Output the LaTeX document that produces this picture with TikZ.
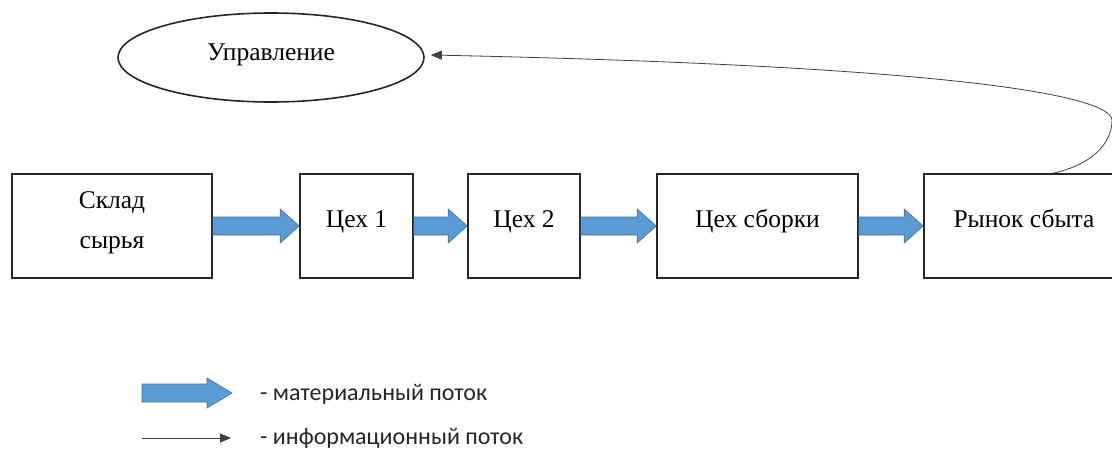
\documentclass[tikz,border=0pt]{standalone}
\usepackage{fontspec}
\setmainfont{Liberation Serif}
\newfontfamily\legendfont{Carlito}
\usetikzlibrary{arrows.meta,shapes.geometric,calc}
\definecolor{arrfill}{HTML}{5B9BD5}
\definecolor{arrline}{HTML}{41719C}
\tikzset{
  box/.style={draw=black!85, line width=1.6pt, fill=white, inner sep=0pt, align=center,
    minimum height=104pt, text height=12pt, text depth=10pt,
    font=\fontsize{25.5}{40}\selectfont},
  boxtext/.style={inner sep=0pt, anchor=base, font=\fontsize{25.5}{40}\selectfont},
  ovalbox/.style={draw=black!85, line width=1.6pt, ellipse, inner sep=0pt,
    text height=12pt, text depth=7pt, font=\fontsize{25.5}{30}\selectfont},
  matflow/.style={fill=arrfill, draw=arrline, line width=0.6pt, line join=miter},
  infoflow/.style={draw=black!75, line width=0.8pt, -{Triangle[length=11pt,width=9pt]}},
  legendtext/.style={anchor=base west, inner sep=0pt, font=\legendfont\fontsize{24}{28}\selectfont, text=black!85}
}
% #1 start, #2 tip, #3 shaft half height, #4 head half height, #5 head length
\newcommand{\matarrow}[5]{%
  \path let \p1=(#1), \p2=(#2) in
    [matflow] (\x1,\y1+#3) -- (\x2-#5,\y1+#3) -- (\x2-#5,\y1+#4) -- (\x2,\y1) --
    (\x2-#5,\y1-#4) -- (\x2-#5,\y1-#3) -- (\x1,\y1-#3) -- cycle;}
\begin{document}
\begin{tikzpicture}[x=1pt,y=-1pt]
\useasboundingbox (0,0) rectangle (1112,450);
% blocks
\node[box, minimum width=200pt] (sklad) at (112,226) {};
\node[boxtext] (sklad1) at ($(sklad.center)+(0,-18)$) {Склад};
\node[boxtext] (sklad2) at ($(sklad.center)+(0,22)$) {сырья};
\node[box, minimum width=113pt] (c1) at (356.5,226) {Цех 1};
\node[box, minimum width=112pt] (c2) at (524,226) {Цех 2};
\node[box, minimum width=201pt] (sb) at (757.5,226) {Цех сборки};
\node[box, minimum width=200pt] (ry) at (1024,226) {Рынок сбыта};
\node[ovalbox, minimum width=306pt, minimum height=89pt] (upr) at (271,57.5) {Управление};
% material flow
\matarrow{sklad.east}{c1.west}{9}{17}{19}
\matarrow{c1.east}{c2.west}{9}{17}{19}
\matarrow{c2.east}{sb.west}{9}{17}{19}
\matarrow{sb.east}{ry.west}{9}{17}{19}
% information flow
\coordinate (src) at ($(ry.north west)+(130,0)$);
\coordinate (tip) at ($(upr.east)+(6,-2.5)$);
\draw[infoflow] (src) .. controls (1090,165) and (1112,145) .. (1112,120)
  .. controls (1110,95) and (950,66) .. (tip);
% legend
\coordinate (lm1) at (142,393);
\coordinate (lm2) at (232,393);
\matarrow{lm1}{lm2}{9}{15}{25}
\node[legendtext] (lmt) at (260,400) {- материальный поток};
\coordinate (li1) at (142,438);
\coordinate (li2) at (231,438);
\draw[infoflow] (li1) -- (li2);
\node[legendtext] (lit) at (260,444.5) {- информационный поток};
\end{tikzpicture}
\end{document}
